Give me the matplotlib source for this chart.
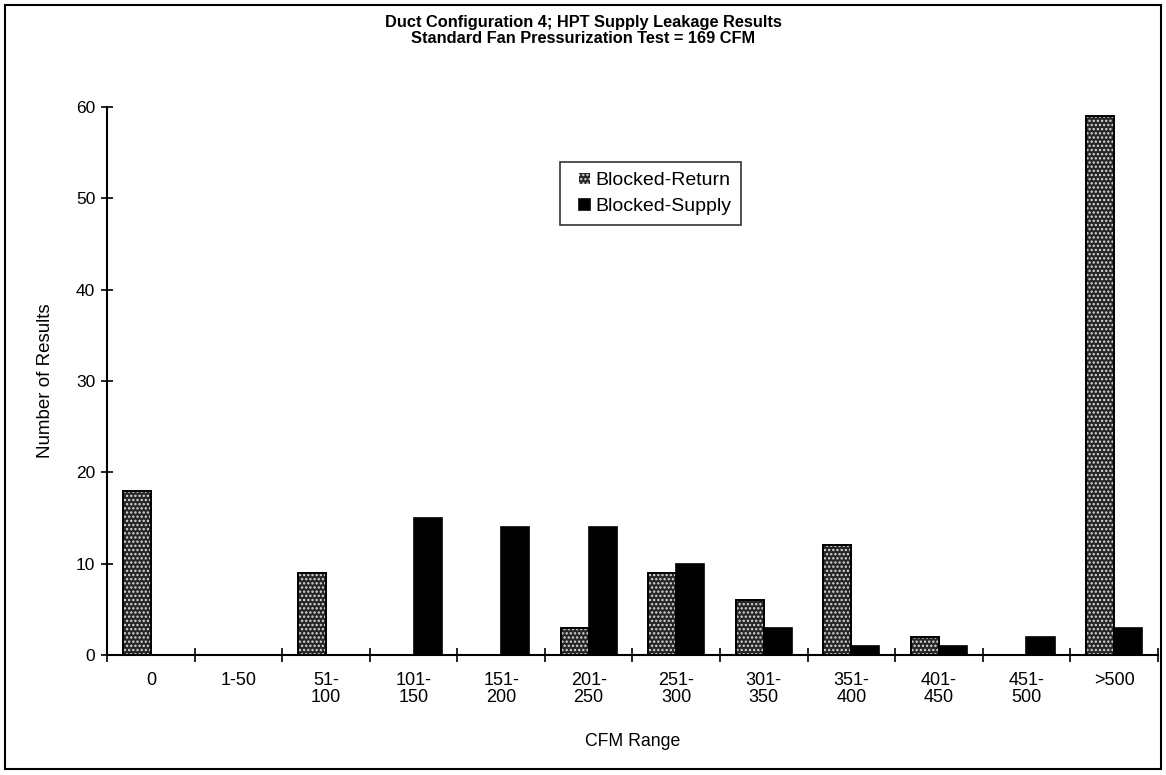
import matplotlib
matplotlib.use("Agg")
import matplotlib.pyplot as plt
import matplotlib.patches as mpatches
from matplotlib.legend_handler import HandlerPatch
import numpy as np

categories = ["0", "1-50", "51-\n100", "101-\n150", "151-\n200", "201-\n250", "251-\n300",
              "301-\n350", "351-\n400", "401-\n450", "451-\n500", ">500"]
blocked_return = [18, 0, 9, 0, 0, 3, 9, 6, 12, 2, 0, 59]
blocked_supply = [0, 0, 0, 15, 14, 14, 10, 3, 1, 1, 2, 3]
series_names = ["Blocked-Return", "Blocked-Supply"]
title_lines = ["Duct Configuration 4; HPT Supply Leakage Results",
               "Standard Fan Pressurization Test = 169 CFM"]

plt.rcParams['font.family'] = ['Liberation Sans', 'DejaVu Sans']
plt.rcParams['hatch.linewidth'] = 1.1

fig = plt.figure(figsize=(11.66, 7.75), dpi=100)
ax = fig.add_axes([0.0918, 0.1548, 0.9012, 0.7072])

x = np.arange(len(categories))
w = 0.32
ret = ax.bar(x - w/2, blocked_return, w, facecolor="#262626", edgecolor="#dcdcdc",
             hatch="....", linewidth=0, label=series_names[0])
ax.bar(x - w/2, blocked_return, w, fill=False, edgecolor="black", linewidth=1.4)
sup = ax.bar(x + w/2, blocked_supply, w, facecolor="black", edgecolor="black",
             linewidth=1.2, label=series_names[1])

ax.set_xlim(-0.5, len(categories) - 0.5)
ax.set_ylim(0, 60)
ax.set_yticks(range(0, 61, 10))
ax.tick_params(axis='y', labelsize=12.5, direction='inout', length=9, width=1.2, pad=4)
ax.set_xticks(x)
ax.set_xticklabels(categories, fontsize=13, linespacing=1.05)
ax.tick_params(axis='x', length=0, pad=12)
ax.set_xticks(np.arange(-0.5, len(categories), 1.0), minor=True)
ax.tick_params(axis='x', which='minor', direction='inout', length=10, width=1.2)
for s in ["top", "right"]:
    ax.spines[s].set_visible(False)
for s in ["left", "bottom"]:
    ax.spines[s].set_linewidth(1.5)

ax.set_ylabel("Number of Results", fontsize=13.5)
ax.yaxis.set_label_coords(-0.050, 0.5)
ax.set_xlabel("CFM Range", fontsize=12.7)
ax.xaxis.set_label_coords(0.5, -0.142)

fig.text(0.5, 0.9716, title_lines[0], ha='center', va='center', fontsize=11.8, fontweight='bold')
fig.text(0.5, 0.9497, title_lines[1], ha='center', va='center', fontsize=11.8, fontweight='bold')


def small_square(legend, orig_handle, xdescent, ydescent, width, height, fontsize):
    s = 8.0
    return mpatches.Rectangle((-xdescent + width - s, -ydescent + (height - s) / 2), s, s)


leg = ax.legend(handles=[ret[0], sup[0]], labels=series_names, loc='upper left',
                bbox_to_anchor=(0.431, 0.8996), fontsize=14,
                frameon=True, fancybox=False, edgecolor='black', handlelength=1.05,
                handleheight=0.7, handletextpad=0.25, borderpad=0.5, labelspacing=0.42,
                borderaxespad=0,
                handler_map={mpatches.Rectangle: HandlerPatch(patch_func=small_square)})
leg.get_frame().set_linewidth(1.2)

fig.patches.append(mpatches.Rectangle((0.004, 0.008), 0.992, 0.985, transform=fig.transFigure,
                                      fill=False, edgecolor='black', linewidth=1.5))

fig.savefig("out.png", dpi=100)
